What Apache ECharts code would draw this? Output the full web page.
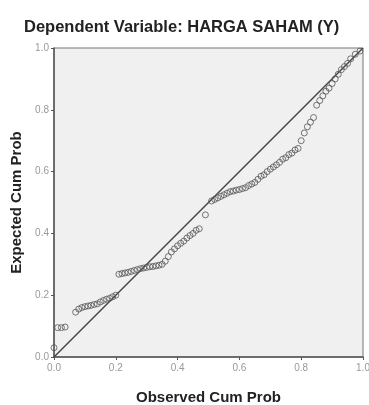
<!DOCTYPE html>
<html>
<head>
<meta charset="utf-8">
<script src="https://cdn.jsdelivr.net/npm/echarts@6/dist/echarts.min.js"></script>
<style>
  html, body { margin: 0; padding: 0; background: #fff; }
  #chart { width: 369px; height: 405px; }
</style>
</head>
<body>
<div id="chart"></div>
<script>
const titleText = 'Dependent Variable: HARGA SAHAM (Y)'
const xTitle = 'Observed Cum Prob'
const yTitle = 'Expected Cum Prob'

// observed cumulative probability of each residual
const observed = [
  0.00, 0.012, 0.024, 0.036,
  0.07, 0.08, 0.09, 0.10, 0.11, 0.12, 0.13, 0.14, 0.15, 0.16, 0.17, 0.18, 0.19, 0.20,
  0.21, 0.22, 0.23, 0.24, 0.25, 0.26, 0.27, 0.28, 0.29, 0.30, 0.31, 0.32, 0.33, 0.34, 0.35,
  0.36, 0.37, 0.38, 0.39, 0.40, 0.41, 0.42, 0.43, 0.44, 0.45, 0.46, 0.47, 0.49,
  0.51, 0.52, 0.53, 0.54, 0.55, 0.56, 0.57, 0.58, 0.59, 0.60, 0.61, 0.62,
  0.63, 0.64, 0.65, 0.66, 0.67, 0.68, 0.69, 0.70, 0.71, 0.72, 0.73, 0.74, 0.75, 0.76, 0.77, 0.78, 0.79,
  0.80, 0.81, 0.82, 0.83, 0.84,
  0.85, 0.86, 0.87, 0.88, 0.89, 0.90, 0.91, 0.92, 0.93, 0.94, 0.95, 0.96, 0.975, 0.99
]
// expected cumulative probability
const expected = [
  0.03, 0.095, 0.095, 0.097,
  0.145, 0.155, 0.16, 0.163, 0.165, 0.167, 0.17, 0.172, 0.178, 0.183, 0.187, 0.19, 0.195, 0.20,
  0.268, 0.27, 0.272, 0.274, 0.277, 0.28, 0.283, 0.286, 0.288, 0.29, 0.292, 0.293, 0.295, 0.297, 0.30,
  0.31, 0.325, 0.34, 0.35, 0.36, 0.368, 0.375, 0.385, 0.393, 0.40, 0.41, 0.415, 0.46,
  0.505, 0.51, 0.515, 0.52, 0.525, 0.53, 0.535, 0.537, 0.54, 0.542, 0.545, 0.548,
  0.555, 0.56, 0.565, 0.575, 0.585, 0.59, 0.60, 0.608, 0.615, 0.622, 0.63, 0.64, 0.645, 0.655, 0.66, 0.67, 0.675,
  0.70, 0.725, 0.745, 0.76, 0.775,
  0.815, 0.83, 0.845, 0.86, 0.87, 0.885, 0.90, 0.915, 0.93, 0.94, 0.95, 0.965, 0.98, 0.99
]
const refLine = [[0, 0], [1, 1]]

const chart = echarts.init(document.getElementById('chart'))

const axisCommon = {
  type: 'value',
  min: 0,
  max: 1,
  interval: 0.2,
  splitLine: { show: false },
  axisLine: { show: true, lineStyle: { color: '#555', width: 1.5 } },
  axisTick: { show: true, length: 3, lineStyle: { color: '#555' } },
  axisLabel: {
    color: '#999',
    fontSize: 10,
    fontFamily: 'Liberation Sans',
    formatter: v => v.toFixed(1),
  },
  nameLocation: 'middle',
  nameTextStyle: {
    color: '#222',
    fontSize: 15,
    fontWeight: 'bold',
    fontFamily: 'Liberation Sans',
  },
}

chart.setOption({
  animation: false,
  backgroundColor: '#fff',
  title: {
    text: titleText,
    left: 19,
    top: 14,
    textStyle: {
      color: '#222',
      fontSize: 16.5,
      fontWeight: 'bold',
      fontFamily: 'Liberation Sans',
    },
  },
  grid: {
    left: 54,
    right: 6,
    top: 48,
    bottom: 48,
    outerBoundsMode: 'none',
    containLabel: false,
    show: true,
    backgroundColor: '#f0f0f0',
    borderColor: '#777',
    borderWidth: 1,
  },
  xAxis: {
    ...axisCommon,
    name: xTitle,
    nameGap: 33,
    axisLabel: { ...axisCommon.axisLabel, margin: 6 },
  },
  yAxis: {
    ...axisCommon,
    name: yTitle,
    nameGap: 28,
    axisLabel: { ...axisCommon.axisLabel, margin: 5 },
  },
  series: [
    {
      type: 'line',
      data: refLine,
      symbol: 'none',
      lineStyle: { color: '#444', width: 1.5 },
      z: 2,
    },
    {
      type: 'scatter',
      data: observed.map((o, i) => [o, expected[i]]),
      symbol: 'circle',
      symbolSize: 6,
      itemStyle: { color: 'rgba(0,0,0,0)', borderColor: '#555', borderWidth: 1 },
      z: 3,
    },
  ],
})
</script>
</body>
</html>
